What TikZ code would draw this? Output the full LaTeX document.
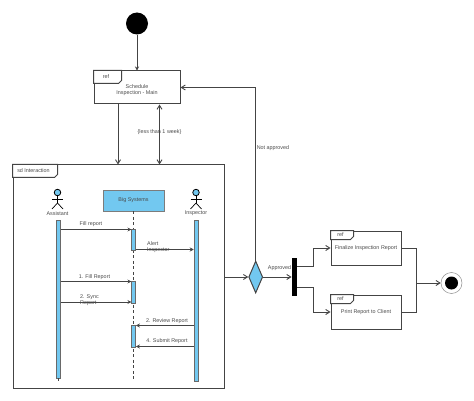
\documentclass[tikz,border=0pt]{standalone}
\usepackage{fontspec}
\setmainfont{Liberation Sans}
\usepackage{xcolor}
\usetikzlibrary{arrows.meta,positioning,calc,shapes.geometric}
\definecolor{umlblue}{HTML}{72C8F0}
\definecolor{umlline}{HTML}{444444}
\definecolor{umltext}{HTML}{4A4A4A}
\newcommand{\reftab}[4]{%
    \draw[frameline, fill=white] (#1.north west) -- ++(#2,0) -- ++(0,#3-3) -- ++(-3,3) -- ($(#1.north west)+(0,#3)$) -- cycle;
    \node[lbl] (#1tab) at ($(#1.north west)+(#2/2-1.5,#3/2)$) {#4};
}
\newcommand{\actor}[3]{%
    \node[circle, draw=black, fill=umlblue, line width=0.8pt, minimum size=6.5pt, inner sep=0pt] (#1head) at (#2,192.5) {};
    \coordinate (#1hip) at (#2,203);
    \draw[stick] (#1head) -- (#1hip);
    \draw[stick] ($(#1head.south)+(-5.5,3)$) -- ($(#1head.south)+(5.5,3)$);
    \draw[stick] (#1hip) -- ++(-5.5,6);
    \draw[stick] (#1hip) -- ++(5.5,6);
    \node[lbl] (#1lbl) at (#2,213.5) {#3};
}
\begin{document}
\begin{tikzpicture}[
    x=1pt, y=-1pt,
    lbl/.style={font=\fontsize{5.4}{6.2}\selectfont, text=umltext, inner sep=0pt, align=center},
    refbox/.style={draw=umlline, line width=1pt, fill=white, minimum width=#1, minimum height=34pt, inner sep=0pt, font=\fontsize{5.4}{6.2}\selectfont, text=umltext, align=center},
    frameline/.style={draw=umlline, line width=1pt},
    stick/.style={draw=black, line width=0.7pt},
    bar/.style={draw=umlline!80, line width=0.5pt, fill=umlblue, inner sep=0pt, minimum width=4pt},
    flow/.style={draw=umlline, line width=0.9pt, -{Straight Barb[length=4pt,width=5pt]}},
    msg/.style={draw=umlline, line width=0.8pt, -{Stealth[length=4pt,width=4pt]}},
]
    \useasboundingbox (0,0) rectangle (474,401);

    % Start and schedule
    \node[circle, fill=black, minimum size=22pt, inner sep=0pt] (start) at (137,23.5) {};
    \node[refbox=86pt, minimum height=33pt] (sched) at (137,87.5) {};
    \node[lbl] (schedlbl) at (137,90.5) {Schedule\\Inspection - Main};
    \reftab{sched}{28}{13}{ref}

    % Interaction frame
    \node[draw=umlline, line width=1pt, minimum width=211pt, minimum height=223pt, inner sep=0pt] (frame) at (118.5,276.5) {};
    \reftab{frame}{45}{13}{sd Interaction}

    % Lifelines
    \actor{asst}{57.5}{Assistant}
    \actor{insp}{196}{Inspector}
    \node[draw=umlline!70, line width=0.7pt, fill=umlblue, minimum width=61pt, minimum height=21pt, inner sep=0pt, font=\fontsize{5.4}{6.2}\selectfont, text=umltext] (big) at (133.5,200.5) {Big Systems};
    \coordinate (bigend) at (133.5,381);
    \draw[draw=umlline, line width=0.8pt, dash pattern=on 3pt off 2.5pt] (big) -- (bigend);
    \node[bar, minimum height=158pt] (asstbar) at (58.5,299) {};
    \coordinate (asstend) at (58.5,381);
    \draw[draw=umlline, line width=0.7pt] (asstbar.south) -- (asstend);
    \node[bar, minimum height=161pt] (inspbar) at (196,300.5) {};
    \node[bar, minimum height=21pt] (act1) at (133.7,239.5) {};
    \node[bar, minimum height=22pt] (act2) at (133.7,292) {};
    \node[bar, minimum height=22pt] (act3) at (133.7,336) {};

    % Messages
    \coordinate (m1) at (0,229.5);
    \coordinate (m2) at (0,249.5);
    \coordinate (m3) at (0,281.5);
    \coordinate (m4) at (0,302);
    \coordinate (m5) at (0,325.5);
    \coordinate (m6) at (0,346.5);
    \draw[msg] (asstbar.east |- m1) -- (act1.west |- m1);
    \draw[msg] (act1.east |- m2) -- (inspbar.west |- m2);
    \draw[msg] (asstbar.east |- m3) -- (act2.west |- m3);
    \draw[msg] (asstbar.east |- m4) -- (act2.west |- m4);
    \draw[msg] (inspbar.west |- m5) -- (act3.east |- m5);
    \draw[msg] (inspbar.west |- m6) -- (act3.east |- m6);
    \node[lbl] (m1lbl) at (91,224) {Fill report};
    \node[lbl, align=left, anchor=west] (m2lbl) at (147,247) {Alert\\Inspector};
    \node[lbl] (m3lbl) at (94.5,277.5) {1. Fill Report};
    \node[lbl, align=left, anchor=west] (m4lbl) at (80,300) {2. Sync\\Report};
    \node[lbl] (m5lbl) at (167,321) {2. Review Report};
    \node[lbl] (m6lbl) at (167,341) {4. Submit Report};

    % Decision and fork
    \node[diamond, draw=umlline, line width=1pt, fill=umlblue, aspect=0.44, minimum width=14pt, minimum height=32pt, inner sep=0pt] (dec) at (255.7,277) {};
    \node[fill=black, minimum width=5.5pt, minimum height=38pt, inner sep=0pt] (fork) at (294.5,277) {};
    \node[lbl] (approved) at (279.5,268.5) {Approved};
    \node[lbl] (notappr) at (273,148) {Not  approved};

    % Final actions
    \node[refbox=70pt] (final) at (366,248) {Finalize Inspection Report};
    \reftab{final}{23}{9}{ref}
    \node[refbox=70pt] (print) at (366,312) {Print Report to Client};
    \reftab{print}{23}{9}{ref}
    \node[circle, draw=umlline!60, line width=0.5pt, minimum size=21pt, inner sep=0pt] (stop) at (451.5,283) {};
    \node[circle, fill=black, minimum size=13pt, inner sep=0pt] (stopin) at (451.5,283) {};

    % Arrows
    \draw[draw=umlline, line width=0.9pt, -{Stealth[length=4pt,width=4pt]}] (start) -- (sched);
    \coordinate (c1) at (118,0);
    \coordinate (c2) at (159.5,0);
    \draw[flow] (sched.south -| c1) -- (frame.north -| c1);
    \draw[flow, {Straight Barb[length=4pt,width=5pt]}-{Straight Barb[length=4pt,width=5pt]}] (sched.south -| c2) -- node[lbl, pos=0.46] (weeklbl) {\{less than 1 week\}} (frame.north -| c2);
    \draw[flow] (frame.east |- dec) -- (dec);
    \draw[flow] (dec.north) |- (sched.east);
    \draw[flow] (dec) -- (fork);
    \coordinate (f1) at (297,266);
    \coordinate (f2) at (297,287);
    \coordinate (fx) at (313,0);
    \draw[flow] (f1) -- (f1 -| fx) |- (final.west);
    \draw[flow] (f2) -- (f2 -| fx) |- (print.west);
    \coordinate (mx) at (416,0);
    \draw[draw=umlline, line width=0.9pt] (final.east) -- (final.east -| mx) -- (print.east -| mx) -- (print.east);
    \draw[flow] (mx |- stop) -- (stop);
\end{tikzpicture}
\end{document}
